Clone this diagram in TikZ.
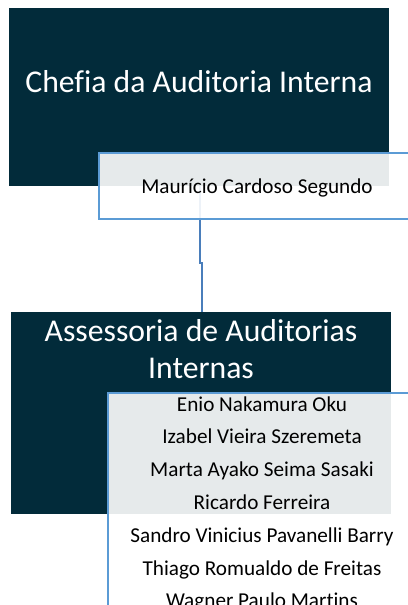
\documentclass[tikz,border=0pt]{standalone}
\usepackage{fontspec}
\setmainfont{Carlito}[Ligatures=CommonOff]
\definecolor{navy}{HTML}{022B3A}
\definecolor{bordblue}{HTML}{5B9BD5}
\definecolor{connblue}{HTML}{4A7EBB}
\tikzset{
  darkbox/.style={draw=none, fill=navy, inner sep=0pt, anchor=north west},
  namebox/.style={draw=bordblue, line width=2pt, fill=white, fill opacity=0.9,
    text opacity=1, inner sep=0pt, anchor=north west},
  head/.style={text=white, font=\fontsize{31.7}{36.3}\selectfont, anchor=base, inner sep=0pt},
  person/.style={text=black, font=\fontsize{21.2}{32.8}\selectfont, anchor=base, inner sep=0pt},
  conn/.style={draw=connblue, line width=2pt}
}
\begin{document}
\begin{tikzpicture}[x=1pt,y=-1pt]
\useasboundingbox[fill=white] (0,0) rectangle (407,605);
% dark boxes
\node[darkbox, minimum width=380pt, minimum height=177.5pt] (chefia) at (9,8) {};
\node[darkbox, minimum width=380pt, minimum height=202pt] (assess) at (11,312) {};
% connector
\coordinate (j1) at (199.5,263);
\coordinate (j2) at (201.5,263);
\draw[conn] (chefia.south -| j1) -- (j1) -- (j2) -- (assess.north -| j2);
% name boxes
\node[namebox, minimum width=320pt, minimum height=66pt] (mbox) at (98,152) {};
\node[namebox, minimum width=310pt, minimum height=240pt] (nbox) at (107,392) {};
% headings
\node[head] (chefiaT) at (199,92.5) {Chefia da Auditoria Interna};
\node[head] (assessT1) at (201,341.7) {Assessoria de Auditorias};
\node[head] (assessT2) at (201,378) {Internas};
% persons
\node[person] (mauricio) at (257,193) {Maurício Cardoso Segundo};
\foreach \nm [count=\i from 0] in {Enio Nakamura Oku, Izabel Vieira Szeremeta,
  Marta Ayako Seima Sasaki, Ricardo Ferreira, Sandro Vinicius Pavanelli Barry,
  Thiago Romualdo de Freitas, Wagner Paulo Martins}
  \node[person] (n\i) at (262,{411+32.8*\i}) {\nm};
\end{tikzpicture}
\end{document}
